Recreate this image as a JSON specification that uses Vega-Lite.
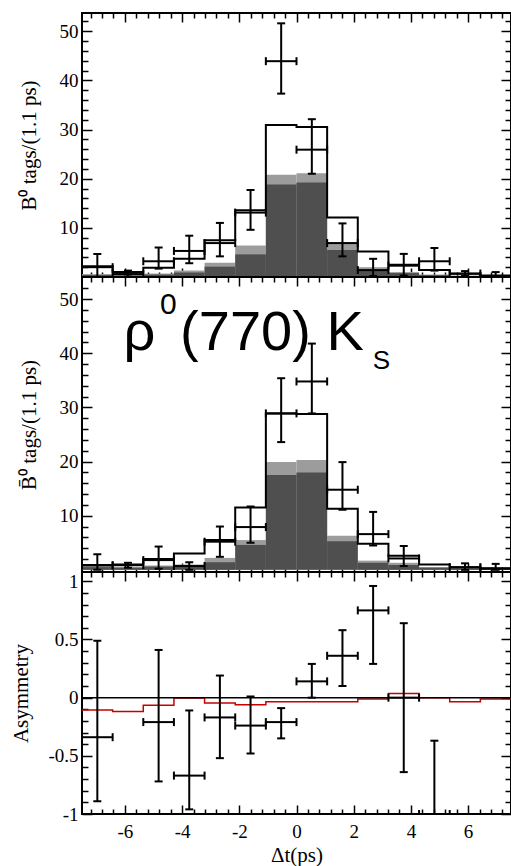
{
  "$schema": "https://vega.github.io/schema/vega-lite/v6.json",
  "background": "white",
  "padding": {"left": 9, "top": 11, "right": 0, "bottom": 0},
  "spacing": 0,
  "bounds": "flush",
  "config": {
    "view": {"stroke": "black", "strokeWidth": 2},
    "axis": {
      "domain": false,
      "grid": false,
      "tickColor": "black",
      "tickWidth": 1.5,
      "labelFont": "Liberation Serif",
      "labelFontSize": 19,
      "labelColor": "black",
      "labelOverlap": false,
      "titleFont": "Liberation Serif",
      "titleFontSize": 21,
      "titleFontWeight": "normal",
      "titleColor": "black"
    },
    "tick": {"opacity": 1}
  },
  "datasets": {
    "b0hist": [
      {"lo": -7.5, "hi": -6.4286, "tot": 2.2, "light": 0.6, "dark": 0.4},
      {"lo": -6.4286, "hi": -5.3571, "tot": 1.0, "light": 0.4, "dark": 0.3},
      {"lo": -5.3571, "hi": -4.2857, "tot": 1.9, "light": 0.7, "dark": 0.5},
      {"lo": -4.2857, "hi": -3.2143, "tot": 3.7, "light": 1.3, "dark": 0.9},
      {"lo": -3.2143, "hi": -2.1429, "tot": 7.5, "light": 2.9, "dark": 2.1},
      {"lo": -2.1429, "hi": -1.0714, "tot": 13.6, "light": 6.4, "dark": 4.6},
      {"lo": -1.0714, "hi": 0, "tot": 30.9, "light": 20.8, "dark": 18.8},
      {"lo": 0, "hi": 1.0714, "tot": 30.5, "light": 21.1, "dark": 19.2},
      {"lo": 1.0714, "hi": 2.1429, "tot": 12.1, "light": 7.0, "dark": 5.5},
      {"lo": 2.1429, "hi": 3.2143, "tot": 5.2, "light": 2.0, "dark": 1.5},
      {"lo": 3.2143, "hi": 4.2857, "tot": 2.5, "light": 1.0, "dark": 0.8},
      {"lo": 4.2857, "hi": 5.3571, "tot": 1.4, "light": 0.5, "dark": 0.4},
      {"lo": 5.3571, "hi": 6.4286, "tot": 0.65, "light": 0.3, "dark": 0.2},
      {"lo": 6.4286, "hi": 7.5, "tot": 0.3, "light": 0.15, "dark": 0.1}
    ],
    "b0pts": [
      {"t": -6.964, "lo": -7.5, "hi": -6.4286, "n": 2.0, "elo": 0.0, "ehi": 4.7},
      {"t": -5.893, "lo": -6.4286, "hi": -5.3571, "n": 0.6, "elo": 0.1, "ehi": 1.3},
      {"t": -4.821, "lo": -5.3571, "hi": -4.2857, "n": 3.2, "elo": 1.7, "ehi": 6.0},
      {"t": -3.75, "lo": -4.2857, "hi": -3.2143, "n": 5.3, "elo": 2.8, "ehi": 8.4},
      {"t": -2.679, "lo": -3.2143, "hi": -2.1429, "n": 6.9, "elo": 4.2, "ehi": 11.0},
      {"t": -1.607, "lo": -2.1429, "hi": -1.0714, "n": 13.1, "elo": 9.6, "ehi": 17.7},
      {"t": -0.536, "lo": -1.0714, "hi": 0, "n": 43.9, "elo": 37.3, "ehi": 51.6},
      {"t": 0.536, "lo": 0, "hi": 1.0714, "n": 25.9, "elo": 21.0, "ehi": 32.1},
      {"t": 1.607, "lo": 1.0714, "hi": 2.1429, "n": 6.9, "elo": 4.2, "ehi": 10.9},
      {"t": 2.679, "lo": 2.1429, "hi": 3.2143, "n": 1.4, "elo": 0.2, "ehi": 3.7},
      {"t": 3.75, "lo": 3.2143, "hi": 4.2857, "n": 2.3, "elo": 0.3, "ehi": 4.7},
      {"t": 4.821, "lo": 4.2857, "hi": 5.3571, "n": 3.2, "elo": 1.3, "ehi": 5.9},
      {"t": 5.893, "lo": 5.3571, "hi": 6.4286, "n": 0.7, "elo": 0.2, "ehi": 1.2},
      {"t": 6.964, "lo": 6.4286, "hi": 7.5, "n": 0.2, "elo": 0.0, "ehi": 1.0}
    ],
    "b0barhist": [
      {"lo": -7.5, "hi": -6.4286, "tot": 0.9, "light": 0.6, "dark": 0.5},
      {"lo": -6.4286, "hi": -5.3571, "tot": 1.0, "light": 0.5, "dark": 0.4},
      {"lo": -5.3571, "hi": -4.2857, "tot": 2.0, "light": 0.8, "dark": 0.6},
      {"lo": -4.2857, "hi": -3.2143, "tot": 3.0, "light": 1.0, "dark": 0.8},
      {"lo": -3.2143, "hi": -2.1429, "tot": 5.5, "light": 2.2, "dark": 1.4},
      {"lo": -2.1429, "hi": -1.0714, "tot": 11.5, "light": 5.5, "dark": 4.6},
      {"lo": -1.0714, "hi": 0, "tot": 28.9, "light": 19.9, "dark": 17.5},
      {"lo": 0, "hi": 1.0714, "tot": 28.8, "light": 20.3, "dark": 18.0},
      {"lo": 1.0714, "hi": 2.1429, "tot": 11.3, "light": 6.3, "dark": 5.3},
      {"lo": 2.1429, "hi": 3.2143, "tot": 4.8, "light": 1.7, "dark": 1.3},
      {"lo": 3.2143, "hi": 4.2857, "tot": 2.6, "light": 1.3, "dark": 0.9},
      {"lo": 4.2857, "hi": 5.3571, "tot": 1.0, "light": 0.5, "dark": 0.4},
      {"lo": 5.3571, "hi": 6.4286, "tot": 0.45, "light": 0.3, "dark": 0.2},
      {"lo": 6.4286, "hi": 7.5, "tot": 0.2, "light": 0.1, "dark": 0.1}
    ],
    "b0barpts": [
      {"t": -6.964, "lo": -7.5, "hi": -6.4286, "n": 0.8, "elo": 0.0, "ehi": 2.9},
      {"t": -5.893, "lo": -6.4286, "hi": -5.3571, "n": 0.85, "elo": 0.4, "ehi": 1.3},
      {"t": -4.821, "lo": -5.3571, "hi": -4.2857, "n": 1.8, "elo": 0.2, "ehi": 4.3},
      {"t": -3.75, "lo": -4.2857, "hi": -3.2143, "n": 0.7, "elo": 0.0, "ehi": 1.4},
      {"t": -2.679, "lo": -3.2143, "hi": -2.1429, "n": 5.2, "elo": 2.4, "ehi": 8.0},
      {"t": -1.607, "lo": -2.1429, "hi": -1.0714, "n": 7.9, "elo": 5.0, "ehi": 11.7},
      {"t": -0.536, "lo": -1.0714, "hi": 0, "n": 28.9, "elo": 23.6, "ehi": 35.4},
      {"t": 0.536, "lo": 0, "hi": 1.0714, "n": 34.8, "elo": 28.9, "ehi": 41.8},
      {"t": 1.607, "lo": 1.0714, "hi": 2.1429, "n": 14.8, "elo": 11.1, "ehi": 19.9},
      {"t": 2.679, "lo": 2.1429, "hi": 3.2143, "n": 6.6, "elo": 4.5, "ehi": 10.7},
      {"t": 3.75, "lo": 3.2143, "hi": 4.2857, "n": 2.1, "elo": 0.7, "ehi": 4.4},
      {"t": 5.893, "lo": 5.3571, "hi": 6.4286, "n": 0.5, "elo": 0.0, "ehi": 1.2},
      {"t": 6.964, "lo": 6.4286, "hi": 7.5, "n": 0.3, "elo": 0.0, "ehi": 1.1}
    ],
    "asympts": [
      {"t": -6.964, "lo": -7.5, "hi": -6.4286, "a": -0.34, "elo": -0.89, "ehi": 0.49},
      {"t": -4.821, "lo": -5.3571, "hi": -4.2857, "a": -0.21, "elo": -0.72, "ehi": 0.41},
      {"t": -3.75, "lo": -4.2857, "hi": -3.2143, "a": -0.67, "elo": -0.96, "ehi": -0.11},
      {"t": -2.679, "lo": -3.2143, "hi": -2.1429, "a": -0.17, "elo": -0.52, "ehi": 0.19},
      {"t": -1.607, "lo": -2.1429, "hi": -1.0714, "a": -0.24, "elo": -0.48, "ehi": 0.01},
      {"t": -0.536, "lo": -1.0714, "hi": 0, "a": -0.21, "elo": -0.35, "ehi": -0.09},
      {"t": 0.536, "lo": 0, "hi": 1.0714, "a": 0.14, "elo": 0.0, "ehi": 0.29},
      {"t": 1.607, "lo": 1.0714, "hi": 2.1429, "a": 0.36, "elo": 0.1, "ehi": 0.58},
      {"t": 2.679, "lo": 2.1429, "hi": 3.2143, "a": 0.75, "elo": 0.29, "ehi": 0.96},
      {"t": 3.75, "lo": 3.2143, "hi": 4.2857, "a": 0.0, "elo": -0.64, "ehi": 0.64},
      {"t": 4.821, "lo": 4.2857, "hi": 5.3571, "a": -1.0, "elo": -1.0, "ehi": -0.37}
    ],
    "asymfit": [
      {"lo": -7.5, "hi": -6.4286, "a": -0.106},
      {"lo": -6.4286, "hi": -5.3571, "a": -0.12},
      {"lo": -5.3571, "hi": -4.2857, "a": -0.066},
      {"lo": -4.2857, "hi": -3.2143, "a": -0.004},
      {"lo": -3.2143, "hi": -2.1429, "a": -0.046},
      {"lo": -2.1429, "hi": -1.0714, "a": -0.06},
      {"lo": -1.0714, "hi": 0, "a": -0.036},
      {"lo": 0, "hi": 1.0714, "a": -0.036},
      {"lo": 1.0714, "hi": 2.1429, "a": -0.036},
      {"lo": 2.1429, "hi": 3.2143, "a": -0.012},
      {"lo": 3.2143, "hi": 4.2857, "a": 0.035},
      {"lo": 4.2857, "hi": 5.3571, "a": 0.0},
      {"lo": 5.3571, "hi": 6.4286, "a": -0.036},
      {"lo": 6.4286, "hi": 7.5, "a": -0.012}
    ]
  },
  "vconcat": [
    {
      "width": 429,
      "height": 264,
      "resolve": {"axis": {"x": "independent", "y": "independent"}},
      "layer": [
        {
          "data": {"name": "b0hist"},
          "mark": {"type": "rect", "color": "#9c9c9c"},
          "encoding": {
            "x": {"field": "lo", "type": "quantitative", "scale": {"domain": [-7.5, 7.5], "nice": false, "zero": false},
                  "axis": {"orient": "bottom", "values": [-6, -4, -2, 0, 2, 4, 6], "tickSize": -9, "labels": false, "title": null}},
            "x2": {"field": "hi"},
            "y": {"field": "light", "type": "quantitative", "scale": {"domain": [0, 53.7], "nice": false, "zero": false},
                  "axis": {"orient": "left", "values": [10, 20, 30, 40, 50], "tickSize": -10, "labelPadding": 14, "title": "B\u2070 tags/(1.1 ps)", "titlePadding": 20}},
            "y2": {"datum": 0}
          }
        },
        {
          "data": {"name": "b0hist"},
          "mark": {"type": "rect", "color": "#4f4f4f"},
          "encoding": {
            "x": {"field": "lo", "type": "quantitative", "scale": {"domain": [-7.5, 7.5], "nice": false, "zero": false},
                  "axis": {"orient": "bottom", "values": [-7.2, -6.8, -6.4, -5.6, -5.2, -4.8, -4.4, -3.6, -3.2, -2.8, -2.4, -1.6, -1.2, -0.8, -0.4, 0.4, 0.8, 1.2, 1.6, 2.4, 2.8, 3.2, 3.6, 4.4, 4.8, 5.2, 5.6, 6.4, 6.8, 7.2], "tickSize": -5, "labels": false, "title": null}},
            "x2": {"field": "hi"},
            "y": {"field": "dark", "type": "quantitative", "scale": {"domain": [0, 53.7], "nice": false, "zero": false},
                  "axis": {"orient": "left", "values": [2, 4, 6, 8, 12, 14, 16, 18, 22, 24, 26, 28, 32, 34, 36, 38, 42, 44, 46, 48, 52], "tickSize": -6, "labels": false, "title": null}},
            "y2": {"datum": 0}
          }
        },
        {
          "data": {"name": "b0hist"},
          "transform": [{"fold": ["lo", "hi"], "as": ["edge", "ex"]}],
          "mark": {"type": "line", "color": "black", "strokeWidth": 2},
          "encoding": {
            "x": {"field": "ex", "type": "quantitative", "scale": {"domain": [-7.5, 7.5], "nice": false, "zero": false},
                  "axis": {"orient": "top", "values": [-6, -4, -2, 0, 2, 4, 6], "tickSize": -9, "labels": false, "title": null}},
            "y": {"field": "tot", "type": "quantitative", "scale": {"domain": [0, 53.7], "nice": false, "zero": false},
                  "axis": {"orient": "right", "values": [10, 20, 30, 40, 50], "tickSize": -10, "labels": false, "title": null}},
            "order": [{"field": "ex", "type": "quantitative"}, {"field": "edge", "type": "ordinal"}]
          }
        },
        {
          "data": {"name": "b0pts"},
          "mark": {"type": "rule", "color": "black", "strokeWidth": 2, "clip": true},
          "encoding": {
            "x": {"field": "t", "type": "quantitative", "scale": {"domain": [-7.5, 7.5], "nice": false, "zero": false},
                  "axis": {"orient": "top", "values": [-7.2, -6.8, -6.4, -5.6, -5.2, -4.8, -4.4, -3.6, -3.2, -2.8, -2.4, -1.6, -1.2, -0.8, -0.4, 0.4, 0.8, 1.2, 1.6, 2.4, 2.8, 3.2, 3.6, 4.4, 4.8, 5.2, 5.6, 6.4, 6.8, 7.2], "tickSize": -5, "labels": false, "title": null}},
            "y": {"field": "elo", "type": "quantitative", "scale": {"domain": [0, 53.7], "nice": false, "zero": false},
                  "axis": {"orient": "right", "values": [2, 4, 6, 8, 12, 14, 16, 18, 22, 24, 26, 28, 32, 34, 36, 38, 42, 44, 46, 48, 52], "tickSize": -6, "labels": false, "title": null}},
            "y2": {"field": "ehi"}
          }
        },
        {
          "data": {"name": "b0pts"},
          "mark": {"type": "rule", "color": "black", "strokeWidth": 2, "clip": true},
          "encoding": {
            "x": {"field": "lo", "type": "quantitative", "scale": {"domain": [-7.5, 7.5], "nice": false, "zero": false}, "axis": null},
            "x2": {"field": "hi"},
            "y": {"field": "n", "type": "quantitative", "scale": {"domain": [0, 53.7], "nice": false, "zero": false}, "axis": null}
          }
        },
        {
          "data": {"name": "b0pts"},
          "transform": [{"fold": ["elo", "ehi"], "as": ["end", "ey"]}],
          "mark": {"type": "tick", "orient": "horizontal", "color": "black", "thickness": 2, "size": 8, "clip": true},
          "encoding": {
            "x": {"field": "t", "type": "quantitative", "scale": {"domain": [-7.5, 7.5], "nice": false, "zero": false}, "axis": null},
            "y": {"field": "ey", "type": "quantitative", "scale": {"domain": [0, 53.7], "nice": false, "zero": false}, "axis": null}
          }
        },
        {
          "data": {"name": "b0pts"},
          "transform": [{"fold": ["lo", "hi"], "as": ["side", "ex"]}],
          "mark": {"type": "tick", "orient": "vertical", "color": "black", "thickness": 2, "size": 8, "clip": true},
          "encoding": {
            "x": {"field": "ex", "type": "quantitative", "scale": {"domain": [-7.5, 7.5], "nice": false, "zero": false}, "axis": null},
            "y": {"field": "n", "type": "quantitative", "scale": {"domain": [0, 53.7], "nice": false, "zero": false}, "axis": null}
          }
        }
      ]
    },
    {
      "width": 429,
      "height": 295,
      "resolve": {"axis": {"x": "independent", "y": "independent"}},
      "layer": [
        {
          "data": {"name": "b0barhist"},
          "mark": {"type": "rect", "color": "#9c9c9c"},
          "encoding": {
            "x": {"field": "lo", "type": "quantitative", "scale": {"domain": [-7.5, 7.5], "nice": false, "zero": false},
                  "axis": {"orient": "bottom", "values": [-6, -4, -2, 0, 2, 4, 6], "tickSize": -9, "labels": false, "title": null}},
            "x2": {"field": "hi"},
            "y": {"field": "light", "type": "quantitative", "scale": {"domain": [-0.4, 54.1], "nice": false, "zero": false},
                  "axis": {"orient": "left", "values": [10, 20, 30, 40, 50], "tickSize": -10, "labelPadding": 14, "title": "B\u0304\u2070 tags/(1.1 ps)", "titlePadding": 20}},
            "y2": {"datum": 0}
          }
        },
        {
          "data": {"name": "b0barhist"},
          "mark": {"type": "rect", "color": "#4f4f4f"},
          "encoding": {
            "x": {"field": "lo", "type": "quantitative", "scale": {"domain": [-7.5, 7.5], "nice": false, "zero": false},
                  "axis": {"orient": "bottom", "values": [-7.2, -6.8, -6.4, -5.6, -5.2, -4.8, -4.4, -3.6, -3.2, -2.8, -2.4, -1.6, -1.2, -0.8, -0.4, 0.4, 0.8, 1.2, 1.6, 2.4, 2.8, 3.2, 3.6, 4.4, 4.8, 5.2, 5.6, 6.4, 6.8, 7.2], "tickSize": -5, "labels": false, "title": null}},
            "x2": {"field": "hi"},
            "y": {"field": "dark", "type": "quantitative", "scale": {"domain": [-0.4, 54.1], "nice": false, "zero": false},
                  "axis": {"orient": "left", "values": [2, 4, 6, 8, 12, 14, 16, 18, 22, 24, 26, 28, 32, 34, 36, 38, 42, 44, 46, 48, 52], "tickSize": -6, "labels": false, "title": null}},
            "y2": {"datum": 0}
          }
        },
        {
          "data": {"name": "b0barhist"},
          "transform": [{"fold": ["lo", "hi"], "as": ["edge", "ex"]}],
          "mark": {"type": "line", "color": "black", "strokeWidth": 2},
          "encoding": {
            "x": {"field": "ex", "type": "quantitative", "scale": {"domain": [-7.5, 7.5], "nice": false, "zero": false},
                  "axis": {"orient": "top", "values": [-6, -4, -2, 0, 2, 4, 6], "tickSize": -9, "labels": false, "title": null}},
            "y": {"field": "tot", "type": "quantitative", "scale": {"domain": [-0.4, 54.1], "nice": false, "zero": false},
                  "axis": {"orient": "right", "values": [10, 20, 30, 40, 50], "tickSize": -10, "labels": false, "title": null}},
            "order": [{"field": "ex", "type": "quantitative"}, {"field": "edge", "type": "ordinal"}]
          }
        },
        {
          "data": {"name": "b0barpts"},
          "mark": {"type": "rule", "color": "black", "strokeWidth": 2, "clip": true},
          "encoding": {
            "x": {"field": "t", "type": "quantitative", "scale": {"domain": [-7.5, 7.5], "nice": false, "zero": false},
                  "axis": {"orient": "top", "values": [-7.2, -6.8, -6.4, -5.6, -5.2, -4.8, -4.4, -3.6, -3.2, -2.8, -2.4, -1.6, -1.2, -0.8, -0.4, 0.4, 0.8, 1.2, 1.6, 2.4, 2.8, 3.2, 3.6, 4.4, 4.8, 5.2, 5.6, 6.4, 6.8, 7.2], "tickSize": -5, "labels": false, "title": null}},
            "y": {"field": "elo", "type": "quantitative", "scale": {"domain": [-0.4, 54.1], "nice": false, "zero": false},
                  "axis": {"orient": "right", "values": [2, 4, 6, 8, 12, 14, 16, 18, 22, 24, 26, 28, 32, 34, 36, 38, 42, 44, 46, 48, 52], "tickSize": -6, "labels": false, "title": null}},
            "y2": {"field": "ehi"}
          }
        },
        {
          "data": {"name": "b0barpts"},
          "mark": {"type": "rule", "color": "black", "strokeWidth": 2, "clip": true},
          "encoding": {
            "x": {"field": "lo", "type": "quantitative", "scale": {"domain": [-7.5, 7.5], "nice": false, "zero": false}, "axis": null},
            "x2": {"field": "hi"},
            "y": {"field": "n", "type": "quantitative", "scale": {"domain": [-0.4, 54.1], "nice": false, "zero": false}, "axis": null}
          }
        },
        {
          "data": {"name": "b0barpts"},
          "transform": [{"fold": ["elo", "ehi"], "as": ["end", "ey"]}],
          "mark": {"type": "tick", "orient": "horizontal", "color": "black", "thickness": 2, "size": 8, "clip": true},
          "encoding": {
            "x": {"field": "t", "type": "quantitative", "scale": {"domain": [-7.5, 7.5], "nice": false, "zero": false}, "axis": null},
            "y": {"field": "ey", "type": "quantitative", "scale": {"domain": [-0.4, 54.1], "nice": false, "zero": false}, "axis": null}
          }
        },
        {
          "data": {"name": "b0barpts"},
          "transform": [{"fold": ["lo", "hi"], "as": ["side", "ex"]}],
          "mark": {"type": "tick", "orient": "vertical", "color": "black", "thickness": 2, "size": 8, "clip": true},
          "encoding": {
            "x": {"field": "ex", "type": "quantitative", "scale": {"domain": [-7.5, 7.5], "nice": false, "zero": false}, "axis": null},
            "y": {"field": "n", "type": "quantitative", "scale": {"domain": [-0.4, 54.1], "nice": false, "zero": false}, "axis": null}
          }
        },
        {
          "data": {"values": [{"x": -6.05, "y": 40.7, "s": "\u03c1"}, {"x": -4.07, "y": 40.7, "s": "(770) K"}]},
          "mark": {"type": "text", "font": "Liberation Sans", "fontSize": 56, "align": "left", "baseline": "alphabetic", "color": "black"},
          "encoding": {
            "x": {"field": "x", "type": "quantitative", "scale": {"domain": [-7.5, 7.5], "nice": false, "zero": false}, "axis": null},
            "y": {"field": "y", "type": "quantitative", "scale": {"domain": [-0.4, 54.1], "nice": false, "zero": false}, "axis": null},
            "text": {"field": "s"}
          }
        },
        {
          "data": {"values": [{"x": -4.77, "y": 47.3, "s": "0"}]},
          "mark": {"type": "text", "font": "Liberation Sans", "fontSize": 30, "align": "left", "baseline": "alphabetic", "color": "black"},
          "encoding": {
            "x": {"field": "x", "type": "quantitative", "scale": {"domain": [-7.5, 7.5], "nice": false, "zero": false}, "axis": null},
            "y": {"field": "y", "type": "quantitative", "scale": {"domain": [-0.4, 54.1], "nice": false, "zero": false}, "axis": null},
            "text": {"field": "s"}
          }
        },
        {
          "data": {"values": [{"x": 2.67, "y": 37.1, "s": "S"}]},
          "mark": {"type": "text", "font": "Liberation Sans", "fontSize": 26, "align": "left", "baseline": "alphabetic", "color": "black"},
          "encoding": {
            "x": {"field": "x", "type": "quantitative", "scale": {"domain": [-7.5, 7.5], "nice": false, "zero": false}, "axis": null},
            "y": {"field": "y", "type": "quantitative", "scale": {"domain": [-0.4, 54.1], "nice": false, "zero": false}, "axis": null},
            "text": {"field": "s"}
          }
        }
      ]
    },
    {
      "width": 429,
      "height": 242,
      "resolve": {"axis": {"x": "independent", "y": "independent"}},
      "layer": [
        {
          "data": {"name": "asymfit"},
          "transform": [{"fold": ["lo", "hi"], "as": ["edge", "ex"]}],
          "mark": {"type": "line", "color": "#c80000", "strokeWidth": 1.5},
          "encoding": {
            "x": {"field": "ex", "type": "quantitative", "scale": {"domain": [-7.5, 7.5], "nice": false, "zero": false},
                  "axis": {"orient": "bottom", "values": [-6, -4, -2, 0, 2, 4, 6], "tickSize": -9, "labelPadding": 17, "labelExpr": "replace(format(datum.value, ''), '\u2212', '-')", "title": "\u0394t(ps)", "titlePadding": 3}},
            "y": {"field": "a", "type": "quantitative", "scale": {"domain": [-1, 1.08], "nice": false, "zero": false},
                  "axis": {"orient": "left", "values": [-1, -0.5, 0, 0.5, 1], "tickSize": -10, "labelPadding": 14, "labelExpr": "replace(format(datum.value, ''), '\u2212', '-')", "title": "Asymmetry", "titlePadding": 16}},
            "order": [{"field": "ex", "type": "quantitative"}, {"field": "edge", "type": "ordinal"}]
          }
        },
        {
          "data": {"values": [{}]},
          "mark": {"type": "rule", "color": "black", "strokeWidth": 1.5},
          "encoding": {
            "y": {"datum": 0, "type": "quantitative", "scale": {"domain": [-1, 1.08], "nice": false, "zero": false}, "axis": null}
          }
        },
        {
          "data": {"name": "asympts"},
          "mark": {"type": "rule", "color": "black", "strokeWidth": 2, "clip": true},
          "encoding": {
            "x": {"field": "t", "type": "quantitative", "scale": {"domain": [-7.5, 7.5], "nice": false, "zero": false},
                  "axis": {"orient": "bottom", "values": [-7.2, -6.8, -6.4, -5.6, -5.2, -4.8, -4.4, -3.6, -3.2, -2.8, -2.4, -1.6, -1.2, -0.8, -0.4, 0.4, 0.8, 1.2, 1.6, 2.4, 2.8, 3.2, 3.6, 4.4, 4.8, 5.2, 5.6, 6.4, 6.8, 7.2], "tickSize": -5, "labels": false, "title": null}},
            "y": {"field": "elo", "type": "quantitative", "scale": {"domain": [-1, 1.08], "nice": false, "zero": false},
                  "axis": {"orient": "left", "values": [-0.9, -0.8, -0.7, -0.6, -0.4, -0.3, -0.2, -0.1, 0.1, 0.2, 0.3, 0.4, 0.6, 0.7, 0.8, 0.9], "tickSize": -6, "labels": false, "title": null}},
            "y2": {"field": "ehi"}
          }
        },
        {
          "data": {"name": "asympts"},
          "mark": {"type": "rule", "color": "black", "strokeWidth": 2, "clip": true},
          "encoding": {
            "x": {"field": "lo", "type": "quantitative", "scale": {"domain": [-7.5, 7.5], "nice": false, "zero": false},
                  "axis": {"orient": "top", "values": [-6, -4, -2, 0, 2, 4, 6], "tickSize": -9, "labels": false, "title": null}},
            "x2": {"field": "hi"},
            "y": {"field": "a", "type": "quantitative", "scale": {"domain": [-1, 1.08], "nice": false, "zero": false},
                  "axis": {"orient": "right", "values": [-1, -0.5, 0, 0.5, 1], "tickSize": -10, "labels": false, "title": null}}
          }
        },
        {
          "data": {"name": "asympts"},
          "transform": [{"fold": ["elo", "ehi"], "as": ["end", "ey"]}],
          "mark": {"type": "tick", "orient": "horizontal", "color": "black", "thickness": 2, "size": 8, "clip": true},
          "encoding": {
            "x": {"field": "t", "type": "quantitative", "scale": {"domain": [-7.5, 7.5], "nice": false, "zero": false},
                  "axis": {"orient": "top", "values": [-7.2, -6.8, -6.4, -5.6, -5.2, -4.8, -4.4, -3.6, -3.2, -2.8, -2.4, -1.6, -1.2, -0.8, -0.4, 0.4, 0.8, 1.2, 1.6, 2.4, 2.8, 3.2, 3.6, 4.4, 4.8, 5.2, 5.6, 6.4, 6.8, 7.2], "tickSize": -5, "labels": false, "title": null}},
            "y": {"field": "ey", "type": "quantitative", "scale": {"domain": [-1, 1.08], "nice": false, "zero": false},
                  "axis": {"orient": "right", "values": [-0.9, -0.8, -0.7, -0.6, -0.4, -0.3, -0.2, -0.1, 0.1, 0.2, 0.3, 0.4, 0.6, 0.7, 0.8, 0.9], "tickSize": -6, "labels": false, "title": null}}
          }
        },
        {
          "data": {"name": "asympts"},
          "transform": [{"fold": ["lo", "hi"], "as": ["side", "ex"]}],
          "mark": {"type": "tick", "orient": "vertical", "color": "black", "thickness": 2, "size": 8, "clip": true},
          "encoding": {
            "x": {"field": "ex", "type": "quantitative", "scale": {"domain": [-7.5, 7.5], "nice": false, "zero": false}, "axis": null},
            "y": {"field": "a", "type": "quantitative", "scale": {"domain": [-1, 1.08], "nice": false, "zero": false}, "axis": null}
          }
        }
      ]
    }
  ]
}
